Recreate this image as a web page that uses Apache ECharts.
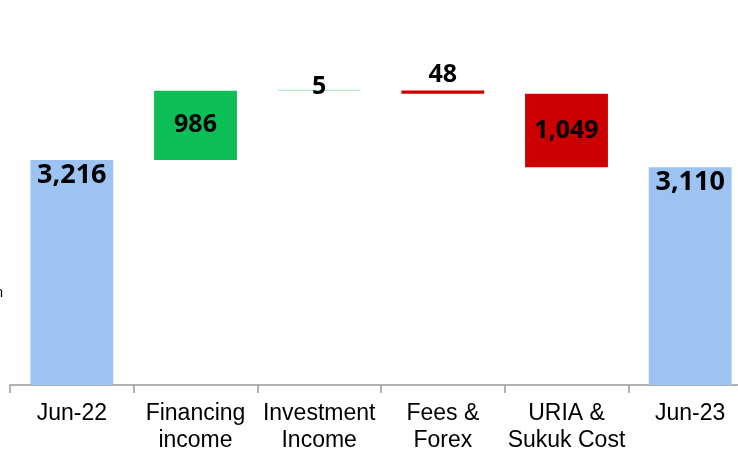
<!DOCTYPE html>
<html>
<head>
<meta charset="utf-8">
<script src="https://cdn.jsdelivr.net/npm/echarts@6/dist/echarts.min.js"></script>
</head>
<body style="margin:0;overflow:hidden">
<!-- plot area runs past the right edge like the original slide -->
<div id="main" style="width: 752px;height:455px;"></div>

<script type="text/javascript">
// waterfall data
var categories = ['Jun-22', 'Financing\nincome', 'Investment\nIncome', 'Fees &\nForex', 'URIA &\nSukuk Cost', 'Jun-23'];
var values = [3216, 986, 5, -48, -1049, 3110];
var kinds = ['total', 'delta', 'delta', 'delta', 'delta', 'total'];

var colBlue = '#9CC3F2';
var colGreen = '#0BBF56';
var colRed = '#CC0000';

// build transparent base + visible bar
var base = [], bars = [];
var running = 0;
for (var i = 0; i < values.length; i++) {
    var v = values[i];
    var color, lbl;
    if (kinds[i] == 'total') {
        base.push(0);
        running = v;
        color = colBlue;
        lbl = { position: 'insideTop', distance: 2, fontSize: 27 };
    } else if (v >= 0) {
        base.push(running);
        running += v;
        color = v < 20 ? '#A6E3C0' : colGreen;
        lbl = v < 20 ? { position: 'top', distance: -10 } : { position: 'inside' };
    } else {
        running += v;
        base.push(running);
        color = colRed;
        lbl = Math.abs(v) < 100 ? { position: 'top', distance: 3 } : { position: 'inside' };
    }
    bars.push({ value: Math.abs(v), itemStyle: { color: color }, label: lbl });
}

option = {
    animation: false,
    grid: { left: 10, right: 0, top: 35, bottom: 70 },
    xAxis: {
        type: 'category',
        data: categories,
        axisLine: { lineStyle: { color: '#999999', width: 1.5 } },
        axisTick: { show: true, length: 8, lineStyle: { color: '#999999', width: 1.5 } },
        axisLabel: {
            color: '#000',
            fontFamily: 'Liberation Sans',
            fontSize: 23,
            lineHeight: 27,
            margin: 15,
            interval: 0
        }
    },
    yAxis: {
        type: 'value',
        min: 0,
        max: 5000,
        show: false
    },
    graphic: [{
        type: 'text',
        left: -49,
        top: 286,
        style: { text: 'SAR mn', fontFamily: 'Liberation Sans', fontSize: 14, fill: '#000' }
    }],
    series: [{
        type: 'bar',
        stack: 'w',
        data: base,
        barWidth: '67%',
        itemStyle: { color: 'transparent' },
        silent: true
    }, {
        type: 'bar',
        stack: 'w',
        data: bars,
        barWidth: '67%',
        barMinHeight: 1,
        label: {
            show: true,
            color: '#000',
            fontFamily: 'Noto Sans',
            fontWeight: 'bold',
            fontSize: 25,
            formatter: function (p) {
                return p.value.toLocaleString('en-US');
            }
        }
    }]
};

var myChart = echarts.init(document.getElementById('main'));
myChart.setOption(option);
</script>
</body>
</html>
